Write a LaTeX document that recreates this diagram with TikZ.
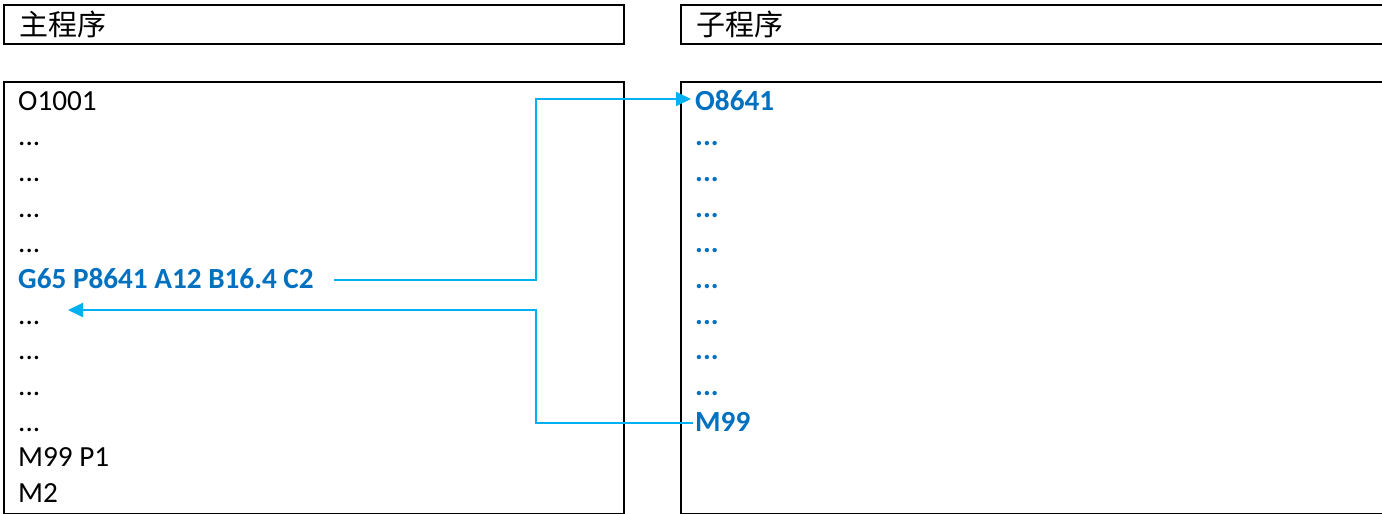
\documentclass[tikz,border=0pt]{standalone}
\usepackage{fontspec}
\setmainfont{Carlito}
\newfontfamily\cjk{Noto Sans CJK SC}
\usetikzlibrary{arrows.meta}
\definecolor{lineblue}{HTML}{00B0F0}
\definecolor{textblue}{HTML}{0070C0}
\begin{document}
\begin{tikzpicture}[x=1pt,y=-1pt,
  box/.style={draw=black,line width=2pt,anchor=north west,inner sep=0pt},
  title/.style={anchor=base west,inner sep=0pt,font=\cjk\fontsize{29}{31}\selectfont},
  code/.style={anchor=base west,inner sep=0pt,font=\fontsize{29.2}{31}\selectfont},
  hot/.style={code,font=\fontsize{29.2}{31}\selectfont\bfseries,text=textblue},
  conn/.style={draw=lineblue,line width=2pt},
  arr/.style={conn,-{Triangle[length=15pt,width=14pt]}}]
\useasboundingbox (0,0) rectangle (1382,514);
% boxes
\node[box,minimum width=620pt,minimum height=39pt] (tl) at (3,4) {};
\node[box,minimum width=704pt,minimum height=39pt] (tr) at (680,4) {};
\node[box,minimum width=620pt,minimum height=432pt] (bl) at (3,81) {};
\node[box,minimum width=704pt,minimum height=432pt] (br) at (680,81) {};
% titles
\node[title] (tlt) at (19,35) {主程序};
\node[title] (trt) at (696,35) {子程序};
% main program lines
\node[code] (l0) at (18,110) {O1001};
\node[code] (l1) at (18,145.7) {...};
\node[code] (l2) at (18,181.3) {...};
\node[code] (l3) at (18,217) {...};
\node[code] (l4) at (18,252.7) {...};
\node[hot]  (l5) at (18,288) {G65 P8641 A12 B16.4 C2};
\node[code] (l6) at (18,324) {...};
\node[code] (l7) at (18,359.7) {...};
\node[code] (l8) at (18,395.3) {...};
\node[code] (l9) at (18,431) {...};
\node[code] (l10) at (18,466.7) {M99 P1};
\node[code] (l11) at (18,502.3) {M2};
% sub program lines
\node[hot] (r0) at (695,110) {O8641};
\node[hot] (r1) at (695,145.7) {...};
\node[hot] (r2) at (695,181.3) {...};
\node[hot] (r3) at (695,217) {...};
\node[hot] (r4) at (695,252.7) {...};
\node[hot] (r5) at (695,288.3) {...};
\node[hot] (r6) at (695,324) {...};
\node[hot] (r7) at (695,359.7) {...};
\node[hot] (r8) at (695,395.3) {...};
\node[hot] (r9) at (695,431) {M99};
% connectors
\coordinate (j) at (536,0);
\coordinate (tipR) at ([xshift=-4pt,yshift=11pt]r0.base west);
\coordinate (tipL) at ([xshift=50pt,yshift=14pt]l6.base west);
\draw[arr] ([xshift=20pt,yshift=8pt]l5.base east) -| (j |- tipR) -- (tipR);
\draw[arr] ([xshift=-2pt,yshift=8pt]r9.base west) -| (j |- tipL) -- (tipL);
\end{tikzpicture}
\end{document}
